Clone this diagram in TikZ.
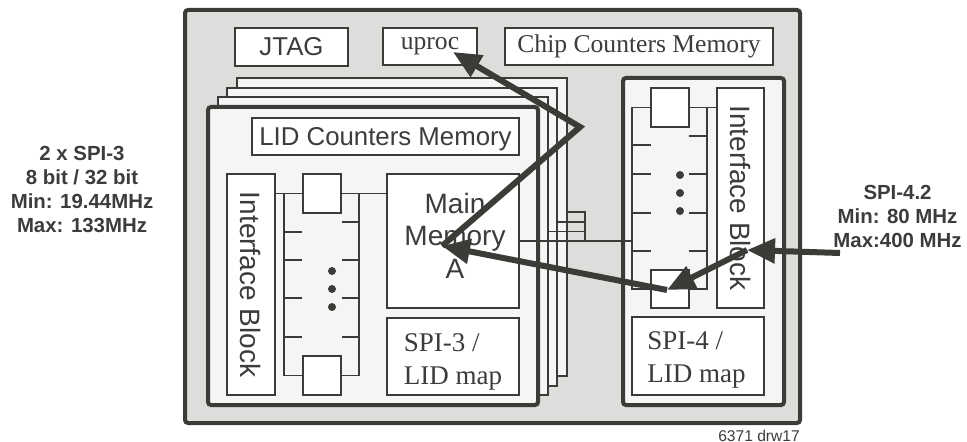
\documentclass[tikz,border=0pt]{standalone}
\usepackage{fontspec}
\setmainfont{Liberation Serif}
\setsansfont{Liberation Sans}
\usetikzlibrary{arrows.meta}
\definecolor{ink}{HTML}{3B3B37}
\definecolor{textgray}{HTML}{3C3C3C}
\definecolor{chipfill}{HTML}{DEDDDB}
\definecolor{diefill}{HTML}{F4F6F5}
\begin{document}
\begin{tikzpicture}[x=0.5pt, y=-0.5pt,
  sz/.style 2 args={minimum width=#1*0.5pt, minimum height=#2*0.5pt},
  box/.style={draw=ink, line width=1pt, fill=white, inner sep=0pt, text=textgray},
  sanstxt/.style={font=\fontsize{12.9}{16}\selectfont\sffamily},
  sertxt/.style={font=\fontsize{12.8}{16}\selectfont\rmfamily},
  bigsans/.style={font=\fontsize{14}{16.3}\selectfont\sffamily},
  chip/.style={draw=ink, line width=2pt, fill=chipfill, rounded corners=1.5pt},
  die/.style={draw=ink, line width=1pt, fill=diefill},
  bus/.style={draw=ink, line width=0.75pt},
  flow/.style={draw=ink, line width=3pt, -{Triangle[length=14pt,width=12pt]}},
  rate/.style={font=\fontsize{10.2}{12}\selectfont\sffamily\bfseries, text=textgray, align=center}]
  \useasboundingbox (0,0) rectangle (967,442);
  % Chip
  \draw[chip] (185,10) rectangle (800,423);
  \node[box, sz={113}{38}, sanstxt] (jtag) at (291.5,47) {JTAG};
  \node[box, sz={94}{37}, sertxt] (uproc) at (430,46.5) {uproc};
  \node[box, sz={268}{37}, sertxt] (ccm) at (639,46.5) {Chip Counters Memory};
  % SPI-3 blocks (stacked)
  \foreach \i in {3,2,1}
    \draw[die] (208+9.6*\i,107-9.5*\i) rectangle (538+9.5*\i,405-9.6*\i);
  \draw[die, line width=2pt, rounded corners=1.5pt] (208,107) rectangle (538,405);
  \node[box, sz={267}{37}, sanstxt, text depth=0pt] (lcm) at (385.5,136.5) {LID Counters Memory};
  \node[box, sz={221}{48}, bigsans, rotate=-90] (ifl) at (251,284.5) {Interface Block};
  \node[box, sz={38}{39}] (sq1) at (322,193.5) {};
  \node[box, sz={38}{39}] (sq2) at (322,375.5) {};
  \node[box, sz={132}{134}] (mma) at (453,241) {};
  \node[bigsans, text=textgray, align=center] (mmatxt) at (455,235.5) {Main\\Memory\\A};
  \node[box, sz={132}{77}] (map3) at (453,356.5) {};
  \node[font=\fontsize{13.5}{16.5}\selectfont, text=textgray, align=left] (map3txt) at (453,362) {SPI-3 /\\LID map};
  % bus
  \draw[bus] (ifl.north |- sq1.west) -- (sq1.west);
  \draw[bus] (sq1.east) -- (sq1.east -| mma.west);
  \draw[bus] (284,193.5) -- (284,375.5) -- (sq2.west);
  \draw[bus] (359,193.5) -- (359,375.5) -- (sq2.east);
  \foreach \y in {232,260,298,337}
    \draw[bus] (284,\y) -- (302,\y);
  \foreach \y in {222,260,298,337}
    \draw[bus] (342,\y) -- (359,\y);
  \foreach \y in {271,289,307}
    \fill[ink] (332,\y) circle (4);
  % SPI-4 block
  \draw[die, line width=2pt, rounded corners=1.5pt] (623,78) rectangle (784,405);
  \node[box, sz={220}{47}, bigsans, rotate=-90] (ifr) at (740.5,198) {Interface Block};
  \node[box, sz={38}{39}] (sq3) at (670,107.5) {};
  \node[box, sz={38}{38}] (sq4) at (670,289) {};
  \node[box, sz={132}{78}] (map4) at (698,356) {};
  \node[font=\fontsize{13.5}{16.5}\selectfont, text=textgray, align=left] (map4txt) at (696.5,359.5) {SPI-4 /\\LID map};
  % bus
  \draw[bus] (sq3.west) -- (632,107.5) -- (632,289) -- (sq4.west);
  \draw[bus] (sq3.east) -- (sq3.east -| ifr.south);
  \draw[bus] (707,107.5) -- (707,289) -- (sq4.east);
  \foreach \y in {145,174,213,251}
    \draw[bus] (632,\y) -- (651,\y);
  \foreach \y in {136,174,213,251}
    \draw[bus] (689,\y) -- (707,\y);
  \foreach \y in {175,193,211}
    \fill[ink] (680,\y) circle (4);
  % links between blocks
  \coordinate (rail4) at (632,241);
  \draw[bus] (mma.east) -- (rail4);
  \draw[bus] (566.5,212) -- (585,212) -- (585,241);
  \draw[bus] (557,222) -- (585,222);
  \draw[bus] (547.5,231.5) -- (585,231.5);
  % data flow
  \coordinate (spi4in) at (840,253);
  \coordinate (ifbin) at (747,250);
  \coordinate (sqin) at (667,290);
  \coordinate (memin) at (442,246);
  \coordinate (bend) at (580,127);
  \coordinate (upin) at (453,52);
  \draw[flow] (spi4in) -- (ifbin);
  \draw[flow] (ifbin) -- (sqin);
  \draw[flow] (sqin) -- (memin);
  \draw[flow] (memin) -- (bend) -- (upin);
  % Interfaces
  \node[rate] (spi3lbl) at (82,189.5) {2 x SPI-3\\8 bit / 32 bit\\Min: 19.44MHz\\Max: 133MHz};
  \node[rate] (spi4lbl) at (897.5,216.5) {SPI-4.2\\Min: 80 MHz\\Max:400 MHz};
  \node[font=\fontsize{7.8}{9}\selectfont\sffamily, text=textgray] (drwlbl) at (759,436) {6371 drw17};
\end{tikzpicture}
\end{document}
